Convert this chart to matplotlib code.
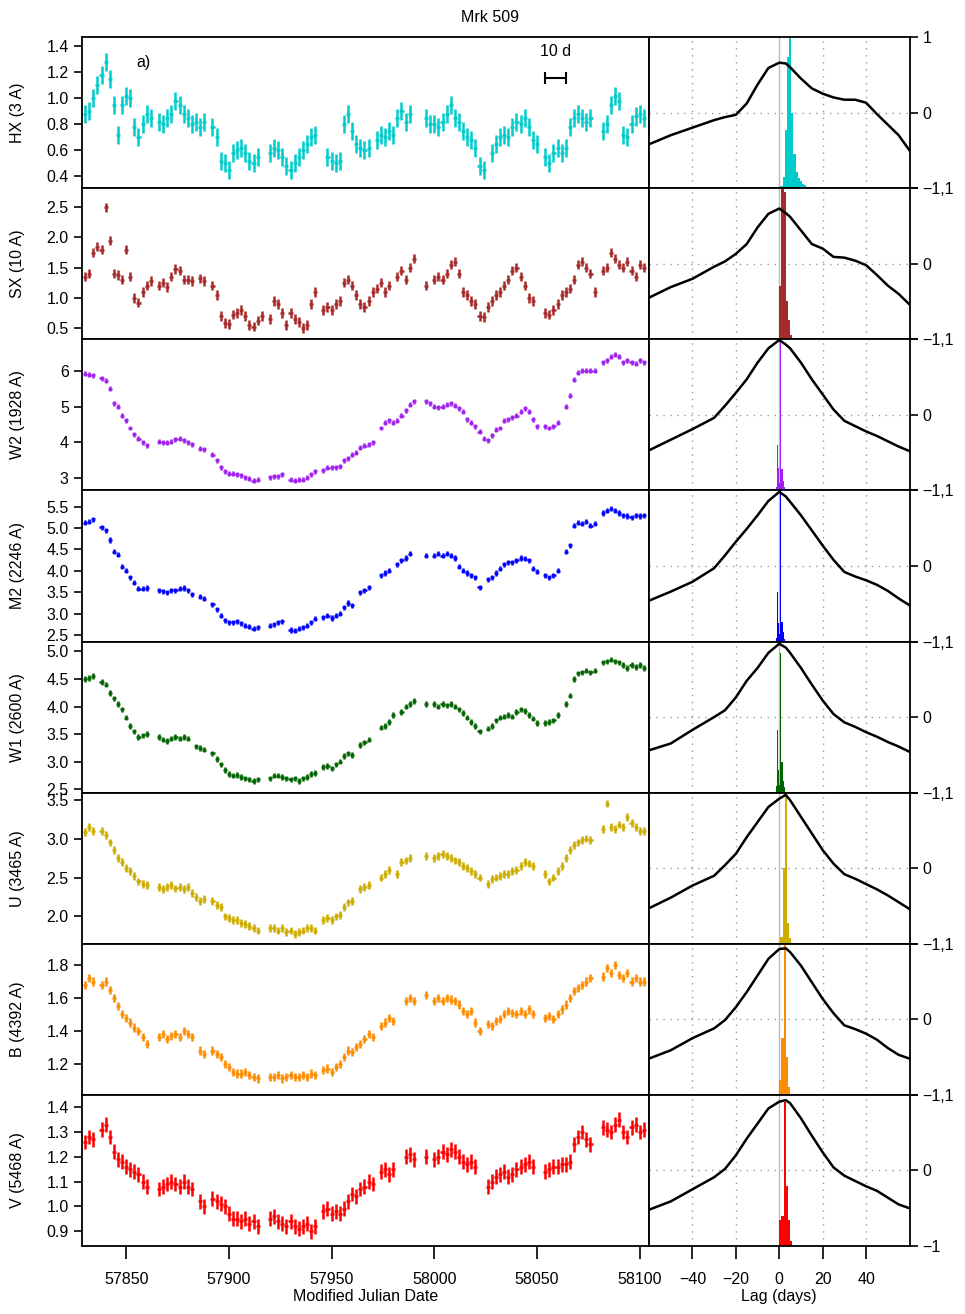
import numpy as np
import matplotlib
matplotlib.use('Agg')
import matplotlib.pyplot as plt

plt.rcParams['font.family'] = ['Liberation Sans', 'DejaVu Sans']

nan = np.nan

# light curves, sampled every 2 days from MJD 57830 to 58102
mjd = list(range(57830, 58104, 2))

hx = [0.88, 0.90, 1.00, 1.10, 1.18, 1.28, 1.15, 0.95, 0.72, 0.95,
      1.02, 1.00, 0.78, 0.70, 0.80, 0.88, 0.85, nan, 0.82, 0.80,
      0.85, 0.88, 0.98, 0.95, 0.88, 0.85, 0.80, 0.82, 0.78, 0.82,
      nan, 0.78, 0.70, 0.52, 0.50, 0.45, 0.58, 0.60, 0.62, 0.58,
      0.52, 0.50, 0.55, nan, nan, 0.58, 0.62, 0.60, 0.55, 0.48,
      0.45, 0.50, 0.55, 0.60, 0.65, 0.70, 0.72, nan, nan, 0.55,
      0.52, 0.50, 0.52, 0.80, 0.88, 0.75, 0.65, 0.62, 0.60, 0.62,
      nan, 0.68, 0.72, 0.70, 0.75, 0.72, 0.85, 0.90, 0.82, 0.88,
      nan, nan, nan, 0.85, 0.80, 0.80, 0.78, 0.82, 0.88, 0.95,
      0.85, 0.82, 0.75, 0.70, 0.68, 0.62, 0.48, 0.45, nan, 0.58,
      0.65, 0.70, 0.72, 0.70, 0.78, 0.82, 0.80, 0.85, 0.78, 0.68,
      0.65, nan, 0.55, 0.50, 0.58, 0.62, 0.58, 0.62, 0.78, 0.85,
      0.88, 0.85, 0.82, 0.85, nan, nan, 0.75, 0.80, 0.95, 1.02,
      0.98, 0.72, 0.70, 0.80, 0.86, 0.88, 0.85]

sx = [1.35, 1.40, 1.75, 1.85, 1.80, 2.50, 1.95, 1.40, 1.38, 1.30,
      1.80, 1.35, 1.00, 0.92, 1.10, 1.20, 1.28, nan, 1.20, 1.25,
      1.18, 1.35, 1.48, 1.45, 1.30, 1.30, 1.28, nan, 1.32, 1.28,
      nan, 1.20, 1.05, 0.70, 0.58, 0.56, 0.72, 0.75, 0.80, 0.70,
      0.55, 0.52, 0.62, 0.70, nan, 0.65, 0.95, 0.90, 0.75, 0.55,
      0.75, 0.65, 0.60, 0.50, 0.55, 0.90, 1.10, nan, 0.80, 0.85,
      0.80, 0.90, 0.95, 1.25, 1.30, 1.20, 1.05, 0.90, 0.85, 0.95,
      1.10, 1.15, 1.25, 1.10, 1.20, nan, 1.35, 1.45, 1.30, 1.50,
      1.65, nan, nan, 1.20, nan, 1.30, 1.35, 1.30, 1.40, 1.55,
      1.60, 1.40, 1.10, 1.05, 0.95, 0.90, 0.70, 0.68, 0.85, 0.95,
      1.05, 1.10, 1.20, 1.30, 1.45, 1.50, 1.35, 1.20, 1.00, 0.95,
      nan, nan, 0.75, 0.72, 0.80, 0.90, 1.05, 1.10, 1.15, 1.30,
      1.55, 1.60, 1.50, 1.40, 1.10, nan, 1.45, 1.50, 1.75, 1.65,
      1.55, 1.50, 1.60, 1.45, 1.35, 1.55, 1.50]

w2 = [5.92, 5.90, 5.88, nan, 5.80, 5.72, 5.50, 5.10, 5.00, 4.75,
      4.62, 4.40, 4.22, 4.10, 4.00, 3.92, nan, nan, 4.02, 4.00,
      3.98, 4.02, 4.08, 4.10, 4.05, 4.00, 3.95, nan, 3.82, 3.80,
      nan, 3.65, 3.50, 3.30, 3.18, 3.12, 3.12, 3.10, 3.08, 3.02,
      2.98, 2.92, 2.95, nan, nan, 3.02, 3.05, 3.05, 3.10, nan,
      2.95, 2.92, 2.95, 2.95, 3.00, 3.10, 3.18, nan, 3.22, 3.28,
      3.30, 3.30, 3.32, 3.50, 3.55, 3.65, 3.70, 3.85, 3.90, 3.95,
      4.00, nan, 4.40, 4.55, 4.62, 4.55, 4.60, 4.75, 4.90, 5.05,
      5.15, nan, nan, 5.15, 5.10, 5.00, 4.98, 5.00, 5.05, 5.10,
      5.02, 4.95, 4.85, 4.65, 4.55, 4.45, 4.30, 4.10, 4.05, 4.20,
      4.35, 4.40, 4.60, 4.65, 4.70, 4.75, 4.85, 4.95, 4.85, 4.65,
      4.45, nan, 4.45, 4.40, 4.45, 4.55, nan, 5.00, 5.30, 5.75,
      5.95, 6.00, 6.00, 6.00, 6.00, nan, 6.25, 6.30, 6.40, 6.45,
      6.40, 6.25, 6.30, 6.25, 6.20, 6.30, 6.25]

m2 = [5.12, 5.15, 5.20, nan, 5.02, 4.95, 4.72, 4.45, 4.38, 4.10,
      4.00, 3.85, 3.72, 3.58, 3.58, 3.60, nan, nan, 3.55, 3.52,
      3.50, 3.55, 3.55, 3.58, 3.60, 3.55, 3.45, nan, 3.40, 3.35,
      nan, 3.22, 3.10, 2.95, 2.85, 2.80, 2.80, 2.82, 2.78, 2.72,
      2.70, 2.65, 2.68, nan, nan, 2.72, 2.75, 2.80, 2.82, nan,
      2.62, 2.60, 2.65, 2.68, 2.72, 2.80, 2.88, nan, 2.92, 2.95,
      2.90, 2.95, 3.00, 3.15, 3.25, 3.20, nan, 3.50, 3.55, 3.62,
      nan, nan, 3.90, 3.95, 4.00, nan, 4.15, 4.25, 4.30, 4.40,
      nan, nan, nan, 4.35, nan, 4.35, 4.40, 4.35, 4.40, 4.35,
      4.30, 4.10, 4.00, 3.95, 3.90, 3.85, 3.62, nan, 3.80, 3.85,
      3.95, 4.05, 4.15, 4.20, 4.20, 4.25, 4.30, 4.28, 4.25, 4.05,
      3.98, nan, 3.90, 3.85, 3.90, 4.00, nan, 4.45, 4.60, 5.05,
      5.12, 5.10, 5.15, 5.05, 5.10, nan, 5.35, 5.40, 5.45, 5.40,
      5.35, 5.30, 5.28, 5.25, 5.30, 5.28, 5.30]

w1 = [4.50, 4.52, 4.55, nan, 4.45, 4.40, 4.25, 4.15, 4.05, 3.95,
      3.80, 3.65, 3.55, 3.45, 3.48, 3.50, nan, nan, 3.45, 3.40,
      3.38, 3.42, 3.45, 3.42, 3.45, 3.42, nan, 3.28, 3.25, 3.22,
      nan, 3.15, 3.05, 2.95, 2.85, 2.78, 2.75, 2.76, 2.72, 2.70,
      2.68, 2.65, 2.68, nan, nan, 2.70, 2.75, 2.75, 2.72, 2.70,
      2.68, 2.70, 2.65, 2.70, 2.72, 2.78, 2.80, nan, 2.90, 2.92,
      2.88, 2.95, 3.00, 3.10, 3.15, 3.12, nan, 3.30, 3.35, 3.40,
      nan, nan, 3.62, 3.65, 3.72, 3.85, nan, 3.90, 4.00, 4.05,
      4.10, nan, nan, 4.05, nan, 4.05, 4.00, 4.05, 4.02, 4.05,
      4.00, 3.95, 3.88, 3.80, 3.72, 3.65, 3.55, nan, 3.60, 3.65,
      3.75, 3.80, 3.82, 3.85, 3.82, 3.90, 3.95, 3.92, 3.85, 3.78,
      3.70, nan, 3.70, 3.72, 3.75, 3.85, nan, 4.05, 4.20, 4.50,
      4.60, 4.62, 4.65, 4.62, 4.65, nan, 4.80, 4.82, 4.85, 4.82,
      4.80, 4.75, 4.70, 4.75, 4.72, 4.75, 4.70]

u = [3.08, 3.15, 3.10, nan, 3.10, 3.05, 2.95, 2.85, 2.75, 2.70,
     2.62, 2.58, 2.52, 2.45, 2.42, 2.40, nan, nan, 2.38, 2.35,
     2.38, 2.40, 2.36, 2.38, 2.35, 2.38, 2.30, 2.25, 2.20, 2.22,
     nan, 2.20, 2.15, 2.12, 2.00, 1.98, 1.95, 1.95, 1.92, 1.90,
     1.88, 1.85, 1.82, nan, nan, 1.85, 1.85, 1.82, 1.85, 1.80,
     1.82, 1.78, 1.80, 1.82, 1.85, 1.85, 1.82, nan, 1.95, 1.98,
     1.95, 2.00, 2.02, 2.12, 2.18, 2.20, nan, 2.35, 2.38, 2.40,
     nan, nan, 2.50, 2.55, 2.60, nan, 2.55, 2.70, 2.72, 2.75,
     nan, nan, nan, 2.78, nan, 2.75, 2.78, 2.80, 2.78, 2.75,
     2.72, 2.70, 2.65, 2.62, 2.58, 2.55, 2.50, nan, 2.42, 2.48,
     2.50, 2.52, 2.55, 2.55, 2.58, 2.60, 2.65, 2.70, 2.68, 2.65,
     nan, nan, 2.55, 2.45, 2.50, 2.58, 2.65, 2.75, 2.85, 2.92,
     2.95, 2.98, 3.00, 2.98, nan, nan, 3.12, 3.45, 3.15, 3.12,
     3.18, 3.15, 3.28, 3.20, 3.15, 3.10, 3.10]

b = [1.68, 1.72, 1.70, nan, 1.68, 1.70, 1.65, 1.60, 1.55, 1.50,
     1.48, 1.45, 1.42, 1.40, 1.36, 1.32, nan, nan, 1.36, 1.38,
     1.35, 1.37, 1.38, 1.36, 1.40, 1.38, 1.36, nan, 1.28, 1.26,
     nan, 1.28, 1.26, 1.24, 1.20, 1.18, 1.15, 1.14, 1.14, 1.15,
     1.13, 1.12, 1.11, nan, nan, 1.12, 1.12, 1.13, 1.11, 1.12,
     1.13, 1.12, 1.12, 1.13, 1.12, 1.14, 1.13, nan, 1.16, 1.17,
     1.15, 1.18, 1.20, 1.24, 1.28, 1.27, 1.30, 1.32, 1.35, 1.38,
     1.36, nan, 1.43, 1.45, 1.48, 1.46, nan, nan, 1.58, 1.60,
     1.58, nan, nan, 1.62, nan, 1.58, 1.60, 1.58, 1.60, 1.59,
     1.58, 1.56, 1.52, 1.50, 1.52, 1.45, 1.40, nan, 1.44, 1.43,
     1.46, 1.47, 1.50, 1.52, 1.51, 1.50, 1.52, 1.50, 1.53, 1.50,
     nan, nan, 1.48, 1.49, 1.47, 1.50, 1.53, 1.56, 1.60, 1.64,
     1.66, 1.68, 1.70, 1.72, nan, nan, 1.73, 1.78, 1.75, 1.80,
     1.74, 1.72, 1.75, 1.70, 1.72, 1.70, 1.70]

v = [1.26, 1.28, 1.27, nan, 1.31, 1.33, 1.28, 1.22, 1.19, 1.18,
     1.16, 1.15, 1.14, 1.13, 1.10, 1.08, nan, nan, 1.07, 1.08,
     1.09, 1.10, 1.09, 1.08, 1.10, 1.08, 1.07, nan, 1.02, 1.00,
     nan, 1.03, 1.02, 1.01, 1.00, 0.97, 0.95, 0.95, 0.94, 0.95,
     0.93, 0.94, 0.92, nan, nan, 0.95, 0.96, 0.94, 0.93, 0.92,
     0.94, 0.92, 0.91, 0.92, 0.93, 0.90, 0.92, nan, 0.98, 0.99,
     0.97, 0.98, 0.97, 0.99, 1.02, 1.05, 1.04, 1.07, 1.08, 1.10,
     1.09, nan, 1.14, 1.15, 1.13, 1.15, nan, nan, 1.20, 1.21,
     1.19, nan, nan, 1.20, nan, 1.19, 1.20, 1.22, 1.21, 1.23,
     1.22, 1.20, 1.18, 1.17, 1.18, 1.16, nan, nan, 1.08, 1.10,
     1.12, 1.13, 1.14, 1.12, 1.13, 1.15, 1.16, 1.17, 1.18, 1.16,
     nan, nan, 1.14, 1.15, 1.16, 1.16, 1.17, 1.17, 1.18, 1.25,
     1.28, 1.30, 1.27, 1.25, nan, nan, 1.32, 1.31, 1.30, 1.33,
     1.35, 1.30, 1.28, 1.32, 1.33, 1.30, 1.31]

flux_err = [0.07, 0.08, 0.07, 0.06, 0.05, 0.05, 0.025, 0.03]

band_labels = ['HX (3 A)', 'SX (10 A)', 'W2 (1928 A)', 'M2 (2246 A)',
               'W1 (2600 A)', 'U (3465 A)', 'B (4392 A)', 'V (5468 A)']
colors = ['#00CCCC', '#A52A2A', '#A020F0', '#0000FF',
          '#006400', '#CDAD00', '#FF8C00', '#FF0000']

yticks = [[0.4, 0.6, 0.8, 1.0, 1.2, 1.4],
          [0.5, 1.0, 1.5, 2.0, 2.5],
          [3, 4, 5, 6],
          [2.5, 3.0, 3.5, 4.0, 4.5, 5.0, 5.5],
          [2.5, 3.0, 3.5, 4.0, 4.5, 5.0],
          [2.0, 2.5, 3.0, 3.5],
          [1.2, 1.4, 1.6, 1.8],
          [0.9, 1.0, 1.1, 1.2, 1.3, 1.4]]
ylims = [(0.31, 1.47), (0.31, 2.82), (2.65, 6.89), (2.35, 5.88),
         (2.44, 5.18), (1.65, 3.59), (1.01, 1.93), (0.84, 1.45)]

# cross correlation functions
lags = [-60, -50, -40, -30, -25, -20, -15, -10, -5, 0, 3, 5,
        10, 15, 20, 25, 30, 35, 40, 45, 50, 55, 60]
ccf_hx = [-0.42, -0.30, -0.20, -0.10, -0.06, -0.03, 0.12, 0.37, 0.59, 0.66, 0.65, 0.60,
          0.45, 0.32, 0.25, 0.20, 0.17, 0.17, 0.13, -0.02, -0.16, -0.30, -0.50]
ccf_sx = [-0.45, -0.31, -0.20, -0.04, 0.03, 0.13, 0.26, 0.48, 0.66, 0.73, 0.67, 0.62,
          0.44, 0.26, 0.20, 0.09, 0.08, 0.04, -0.02, -0.15, -0.29, -0.40, -0.54]
ccf_w2 = [-0.47, -0.33, -0.19, -0.04, 0.12, 0.29, 0.47, 0.69, 0.88, 0.99, 0.93, 0.88,
          0.69, 0.47, 0.27, 0.07, -0.08, -0.15, -0.22, -0.28, -0.35, -0.42, -0.48]
ccf_m2 = [-0.46, -0.34, -0.21, -0.03, 0.14, 0.32, 0.49, 0.67, 0.86, 0.98, 0.92, 0.85,
          0.67, 0.47, 0.27, 0.08, -0.08, -0.14, -0.19, -0.25, -0.33, -0.43, -0.52]
ccf_w1 = [-0.44, -0.35, -0.17, 0.00, 0.09, 0.26, 0.48, 0.65, 0.85, 0.97, 0.92, 0.85,
          0.65, 0.43, 0.22, 0.04, -0.07, -0.13, -0.20, -0.26, -0.33, -0.39, -0.46]
ccf_u = [-0.53, -0.39, -0.23, -0.10, 0.04, 0.19, 0.41, 0.61, 0.81, 0.92, 0.97, 0.90,
         0.68, 0.46, 0.24, 0.06, -0.08, -0.14, -0.21, -0.28, -0.36, -0.45, -0.54]
ccf_b = [-0.52, -0.41, -0.25, -0.12, -0.01, 0.16, 0.36, 0.58, 0.80, 0.93, 0.94, 0.89,
         0.71, 0.49, 0.27, 0.08, -0.08, -0.13, -0.19, -0.27, -0.38, -0.47, -0.52]
ccf_v = [-0.52, -0.41, -0.25, -0.09, 0.02, 0.20, 0.42, 0.62, 0.82, 0.91, 0.93, 0.89,
         0.69, 0.46, 0.24, 0.04, -0.07, -0.14, -0.21, -0.27, -0.36, -0.45, -0.50]

# lag distributions (bin centre, height above the -1 baseline)
hist_hx = ([1, 2, 3, 4, 5, 6, 7, 8, 9, 10, 11, 12, 13],
           [0.03, 0.15, 0.77, 1.74, 2.0, 1.0, 0.45, 0.22, 0.14, 0.09, 0.06, 0.04, 0.02])
hist_sx = ([0.5, 1.5, 2.5, 3.5, 4.5, 5.5], [0.7, 2.0, 1.95, 0.5, 0.25, 0.05])
hist_w2 = ([-1.25, -0.75, -0.25, 0.25, 0.75, 1.25, 1.75, 2.25],
           [0.05, 0.60, 0.30, 0.10, 2.0, 0.28, 0.12, 0.04])
hist_m2 = ([-1.25, -0.75, -0.25, 0.25, 0.75, 1.25, 1.75, 2.25],
           [0.04, 0.66, 0.25, 0.10, 2.0, 0.26, 0.12, 0.03])
hist_w1 = ([-1.25, -0.75, -0.25, 0.25, 0.75, 1.25, 1.75, 2.25],
           [0.09, 0.83, 0.30, 0.10, 1.85, 0.41, 0.15, 0.07])
hist_u = ([1, 2, 3, 4, 5], [0.09, 1.0, 2.0, 0.27, 0.08])
hist_b = ([0.5, 1.5, 2.5, 3.5, 4.5], [0.2, 0.75, 2.0, 0.5, 0.1])
hist_v = ([0.5, 1.5, 2.5, 3.5, 4.5, 5.5], [0.35, 0.4, 1.9, 0.8, 0.35, 0.06])
bin_width = [1.0, 1.0, 0.5, 0.5, 0.5, 1.0, 1.0, 1.0]

fluxes = [hx, sx, w2, m2, w1, u, b, v]
ccfs = [ccf_hx, ccf_sx, ccf_w2, ccf_m2, ccf_w1, ccf_u, ccf_b, ccf_v]
hists = [hist_hx, hist_sx, hist_w2, hist_m2, hist_w1, hist_u, hist_b, hist_v]

W, H = 965, 1314
fig = plt.figure(figsize=(W / 100, H / 100), dpi=100)

top_px = 37
row_px = (1246 - 37) / 8
left_l, left_w = 82 / W, (649 - 82) / W
right_l, right_w = 649 / W, (909.5 - 649) / W
fs = 11.5

for i in range(8):
    y0 = 1 - (top_px + (i + 1) * row_px) / H
    h = row_px / H
    ax = fig.add_axes([left_l, y0, left_w, h])
    ax2 = fig.add_axes([right_l, y0, right_w, h])

    c = colors[i]
    ax.errorbar(mjd, fluxes[i], yerr=flux_err[i], xerr=1.0, fmt='none',
                ecolor=c, elinewidth=1.8, capsize=0)
    ax.set_xlim(57828.5, 58104.5)
    ax.set_ylim(*ylims[i])
    ax.set_yticks(yticks[i])
    if i == 2:
        ax.set_yticklabels(['%d' % t for t in yticks[i]])
    else:
        ax.set_yticklabels(['%.1f' % t for t in yticks[i]])
    ax.set_ylabel(band_labels[i], fontsize=fs)
    ax.yaxis.set_label_coords(-0.10, 0.5)
    ax.tick_params(axis='y', direction='out', length=6, width=1.2, labelsize=fs)
    for s in ax.spines.values():
        s.set_linewidth(1.3)

    # right: CCF and lag distribution
    for g in [-40, -20, 20, 40]:
        ax2.axvline(g, color='#999999', lw=1, ls=(0, (1, 4)), zorder=0)
    ax2.axhline(0, color='#999999', lw=1, ls=(0, (1, 4)), zorder=0)
    ax2.axvline(0, color='#bbbbbb', lw=1, zorder=1)
    ax2.bar(hists[i][0], hists[i][1], width=bin_width[i], bottom=-1,
            color=c, linewidth=0, zorder=2)
    ax2.plot(lags, ccfs[i], color='black', lw=1.8, zorder=3)
    ax2.set_xlim(-60, 60)
    ax2.set_ylim(-1, 1)
    ax2.yaxis.tick_right()
    ax2.set_yticks([-1, 0, 1])
    lab_top = '1' if i == 0 else ''
    lab_bot = '\u22121' if i == 7 else '\u22121,1'
    ax2.set_yticklabels([lab_bot, '0', lab_top])
    ax2.tick_params(axis='y', direction='out', length=6, width=1.2, labelsize=fs)
    for s in ax2.spines.values():
        s.set_linewidth(1.3)

    if i < 7:
        ax.tick_params(axis='x', bottom=False, labelbottom=False)
        ax2.tick_params(axis='x', bottom=False, labelbottom=False)
    else:
        ax.set_xticks([57850, 57900, 57950, 58000, 58050, 58100])
        ax.tick_params(axis='x', direction='out', length=9, width=1.2,
                       labelsize=fs, pad=10)
        ax.set_xlabel('Modified Julian Date', fontsize=fs, labelpad=1)
        ax2.set_xticks([-40, -20, 0, 20, 40])
        ax2.tick_params(axis='x', direction='out', length=9, width=1.2,
                        labelsize=fs, pad=10)
        ax2.set_xlabel('Lag (days)', fontsize=fs, labelpad=1)

    if i == 0:
        ax.text(57855, 1.24, 'a)', fontsize=fs)
        ax.errorbar([58059], [1.155], xerr=[5], color='black', lw=1.5,
                    capsize=4, capthick=1.5, fmt='none')
        ax.text(58059, 1.30, '10 d', fontsize=fs, ha='center', va='bottom')

fig.text(0.508, 1 - 18 / H, 'Mrk 509', fontsize=fs, ha='center', va='center')

fig.savefig('out.png', dpi=100)
